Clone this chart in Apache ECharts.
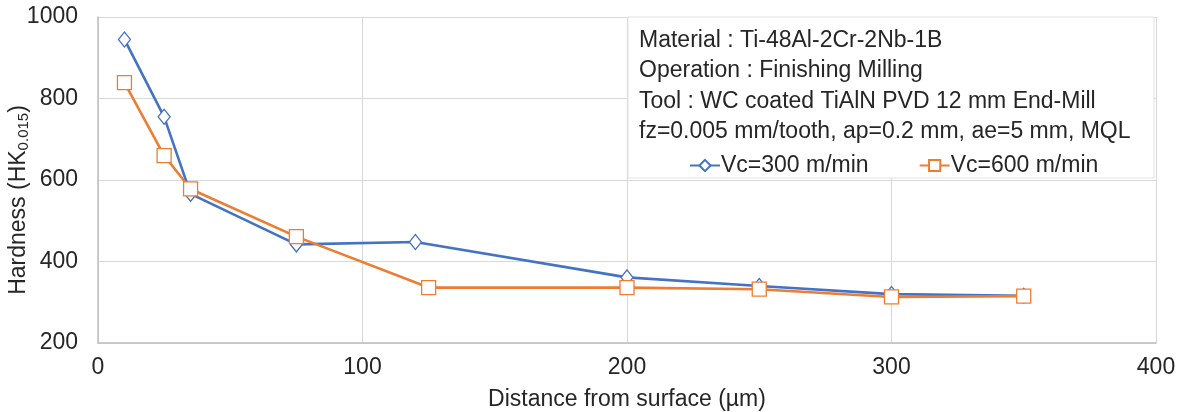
<!DOCTYPE html>
<html>
<head>
<meta charset="utf-8">
<script src="https://cdn.jsdelivr.net/npm/echarts@6/dist/echarts.min.js"></script>
<style>
  html, body { margin: 0; padding: 0; background: #fff; }
  #chart { width: 1179px; height: 412px; }
</style>
</head>
<body>
<div id="chart"></div>
<script>
// Microhardness profile below the machined surface
const depth300 = [10, 25, 35, 75, 120, 200, 250, 300, 350];
const hard300 = [945, 755, 566, 442, 448, 361, 340, 320, 316];
const depth600 = [10, 25, 35, 75, 125, 200, 250, 300, 350];
const hard600 = [839, 660, 578, 461, 336, 336, 332, 313, 315];
const seriesNames = ['Vc=300 m/min', 'Vc=600 m/min'];
const infoLines = [
  'Material : Ti-48Al-2Cr-2Nb-1B',
  'Operation : Finishing Milling',
  'Tool : WC coated TiAlN PVD 12 mm End-Mill',
  'fz=0.005 mm/tooth, ap=0.2 mm, ae=5 mm, MQL'
];

const pairs = (xs, ys) => xs.map((x, i) => [x, ys[i]]);
const font = 'Liberation Sans, Arial, sans-serif';
const gridColor = '#d9d9d9';
const txt = '#262626';

const chart = echarts.init(document.getElementById('chart'));
chart.setOption({
  animation: false,
  textStyle: { fontFamily: font },
  grid: { left: 98, right: 23, top: 17, bottom: 69, outerBoundsMode: 'none', containLabel: false },
  xAxis: {
    type: 'value', min: 0, max: 400, interval: 100,
    name: 'Distance from surface (\u00b5m)',
    nameLocation: 'middle', nameGap: 45, nameMoveOverlap: false,
    nameTextStyle: { fontSize: 23, color: txt, fontFamily: font },
    axisLine: { show: true, lineStyle: { color: '#bfbfbf', width: 1.5 } },
    axisTick: { show: false },
    axisLabel: { fontSize: 23, color: txt, margin: 13, fontFamily: font, formatter: v => String(v) },
    splitLine: { show: true, lineStyle: { color: gridColor, width: 1.2 } }
  },
  yAxis: {
    type: 'value', min: 200, max: 1000, interval: 200,
    name: '{a|Hardness (HK}{s|0.015}{a|)}',
    nameLocation: 'middle', nameGap: 67, nameRotate: 90, nameMoveOverlap: false,
    nameTextStyle: {
      padding: [0, 40, 0, 0],
      rich: {
        a: { fontSize: 23, color: txt, fontFamily: font },
        s: { fontSize: 15, color: txt, fontFamily: font, padding: [10, 0, 0, 0] }
      }
    },
    axisLine: { show: true, lineStyle: { color: '#bfbfbf', width: 1.5 } },
    axisTick: { show: false },
    axisLabel: { fontSize: 23, color: txt, margin: 20, fontFamily: font, formatter: v => String(v) },
    splitLine: { show: true, lineStyle: { color: gridColor, width: 1.2 } }
  },
  graphic: [{
    type: 'rect', z: 5,
    shape: { x: 628, y: 17, width: 526, height: 161 },
    style: { fill: '#ffffff', stroke: '#e3e3e3', lineWidth: 1 }
  }],
  title: {
    text: infoLines.join('\n'),
    left: 639, top: 25, padding: 0, z: 10,
    textStyle: { fontSize: 23, lineHeight: 30.5, fontWeight: 'normal', color: txt, fontFamily: font }
  },
  legend: {
    data: seriesNames,
    left: 684, top: 149, z: 10,
    itemWidth: 30, itemHeight: 14, itemGap: 50,
    textStyle: { fontSize: 23, color: txt, fontFamily: font, padding: [0, 0, 0, -4] }
  },
  series: [
    {
      name: seriesNames[0], type: 'line',
      data: pairs(depth300, hard300),
      symbol: 'diamond', symbolSize: [12, 15],
      color: '#4472C4',
      lineStyle: { width: 2.6, color: '#4472C4' },
      itemStyle: { color: '#ffffff', borderColor: '#4472C4', borderWidth: 1.3 },
      z: 2
    },
    {
      name: seriesNames[1], type: 'line',
      data: pairs(depth600, hard600),
      symbol: 'rect', symbolSize: 14,
      color: '#ED7D31',
      lineStyle: { width: 2.6, color: '#ED7D31' },
      itemStyle: { color: '#ffffff', borderColor: '#ED7D31', borderWidth: 1.3 },
      z: 3
    }
  ]
});
</script>
</body>
</html>
